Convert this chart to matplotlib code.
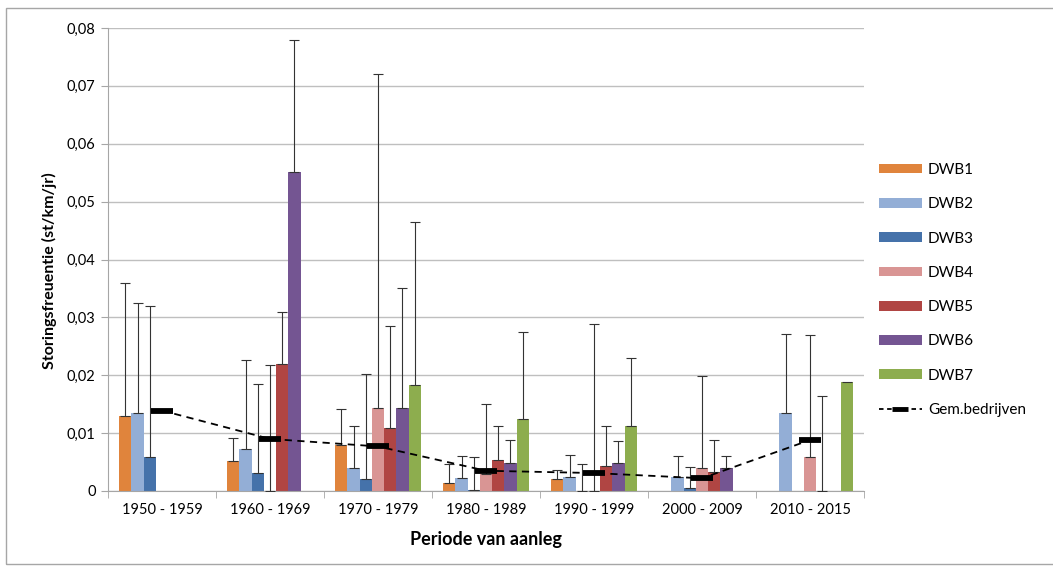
import numpy as np
import matplotlib
matplotlib.use("Agg")
import matplotlib.pyplot as plt
from matplotlib.lines import Line2D
from matplotlib.patches import Rectangle, Patch
from matplotlib.ticker import FuncFormatter

plt.rcParams['font.family'] = ['Lato', 'DejaVu Sans']

nan = np.nan

periods = ["1950 - 1959", "1960 - 1969", "1970 - 1979", "1980 - 1989",
           "1990 - 1999", "2000 - 2009", "2010 - 2015"]

# storingsfrequentie per bedrijf (st/km/jr)
dwb1 = [0.0130, 0.0052, 0.0080, 0.0014, 0.0021, nan, nan]
dwb2 = [0.0134, 0.0072, 0.0040, 0.0023, 0.0025, 0.0025, 0.0134]
dwb3 = [0.0058, 0.0031, 0.0021, 0.0002, 0.0000, 0.0005, nan]
dwb4 = [nan, 0.0000, 0.0143, 0.0029, 0.0000, 0.0039, 0.0058]
dwb5 = [nan, 0.0220, 0.0109, 0.0053, 0.0043, 0.0032, 0.0000]
dwb6 = [nan, 0.0552, 0.0143, 0.0049, 0.0048, 0.0039, nan]
dwb7 = [nan, nan, 0.0183, 0.0124, 0.0113, nan, 0.0188]

# positieve foutmarge per bedrijf
err1 = [0.0230, 0.0039, 0.0061, 0.0032, 0.0015, nan, nan]
err2 = [0.0190, 0.0154, 0.0072, 0.0038, 0.0038, 0.0035, 0.0137]
err3 = [0.0262, 0.0154, 0.0182, 0.0057, 0.0046, 0.0036, nan]
err4 = [nan, 0.0218, 0.0578, 0.0121, 0.0289, 0.0159, 0.0211]
err5 = [nan, 0.0090, 0.0176, 0.0059, 0.0070, 0.0056, 0.0165]
err6 = [nan, 0.0228, 0.0208, 0.0039, 0.0038, 0.0021, nan]
err7 = [nan, nan, 0.0282, 0.0150, 0.0116, nan, nan]

# gemiddelde van alle bedrijven
gem = [0.0139, 0.0090, 0.0077, 0.0035, 0.0031, 0.0022, 0.0088]

names = ["DWB1", "DWB2", "DWB3", "DWB4", "DWB5", "DWB6", "DWB7"]
series = [dwb1, dwb2, dwb3, dwb4, dwb5, dwb6, dwb7]
errors = [err1, err2, err3, err4, err5, err6, err7]
colors = ["#E0843C", "#93AED6", "#4572AA", "#D99594", "#B04543", "#745592", "#8DAD4E"]

fig = plt.figure(figsize=(10.53, 5.67), dpi=100)
ax = fig.add_axes([108 / 1053, 1 - 491 / 567, 756 / 1053, 463 / 567])

x = np.arange(len(periods))
w = 0.113

for i, (vals, errs, c) in enumerate(zip(series, errors, colors)):
    pos = x + (i - 3) * w
    vals = np.array(vals)
    errs = np.array(errs)
    ax.bar(pos, vals, width=w, color=c, zorder=2)
    lower = np.zeros_like(errs)
    ax.errorbar(pos, vals, yerr=[lower, errs], fmt='none', ecolor='#333333',
                elinewidth=0.8, capsize=3.4, capthick=0.8, zorder=3)

ax.plot(x, gem, color='black', linestyle=(0, (4, 3)), linewidth=1.3,
        marker='_', markersize=15.5, markeredgewidth=4.2, zorder=4)

ax.set_xlim(-0.5, len(periods) - 0.5)
ax.set_ylim(0, 0.08)
ax.set_yticks(np.arange(0, 0.081, 0.01))
ax.yaxis.set_major_formatter(FuncFormatter(
    lambda v, p: "0" if abs(v) < 1e-9 else f"{v:.2f}".replace(".", ",")))
ax.set_xticks(x)
ax.set_xticklabels(periods, fontsize=10.5)
ax.set_xticks(np.arange(-0.5, len(periods), 1), minor=True)
ax.tick_params(axis='x', which='major', length=0, pad=9)
ax.tick_params(axis='x', which='minor', length=5, color='#A6A6A6')
ax.tick_params(axis='y', length=5, color='#A6A6A6', labelsize=10.5, pad=4)

ax.grid(axis='y', color='#BFBFBF', linewidth=1, zorder=0)
ax.set_axisbelow(True)
for s in ['top', 'right']:
    ax.spines[s].set_visible(False)
for s in ['left', 'bottom']:
    ax.spines[s].set_color('#A6A6A6')

ax.set_ylabel("Storingsfreuentie (st/km/jr)", fontsize=11.5, fontweight='bold')
ax.yaxis.set_label_coords(-0.067, 0.475)
ax.set_xlabel("Periode van aanleg", fontsize=13, fontweight='bold', labelpad=10)

handles = [Patch(facecolor=c, edgecolor='none') for c in colors]
handles.append(Line2D([0], [0], color='black', linestyle=(0, (2.5, 2)), linewidth=1.3,
                      marker='_', markersize=12, markeredgewidth=3.5))
labels = names + ["Gem.bedrijven"]
fig.legend(handles, labels, loc='center left', bbox_to_anchor=(879 / 1053, 1 - 290 / 567),
           frameon=False, fontsize=11, handlelength=2.8, handleheight=0.62,
           handletextpad=0.4, labelspacing=1.33, borderpad=0, borderaxespad=0)

fig.patches.append(Rectangle((6 / 1053, 3 / 567), 1.0, 1 - 11 / 567,
                             transform=fig.transFigure, fill=False,
                             edgecolor='#A6A6A6', linewidth=1))

fig.savefig("out.png", dpi=100)
